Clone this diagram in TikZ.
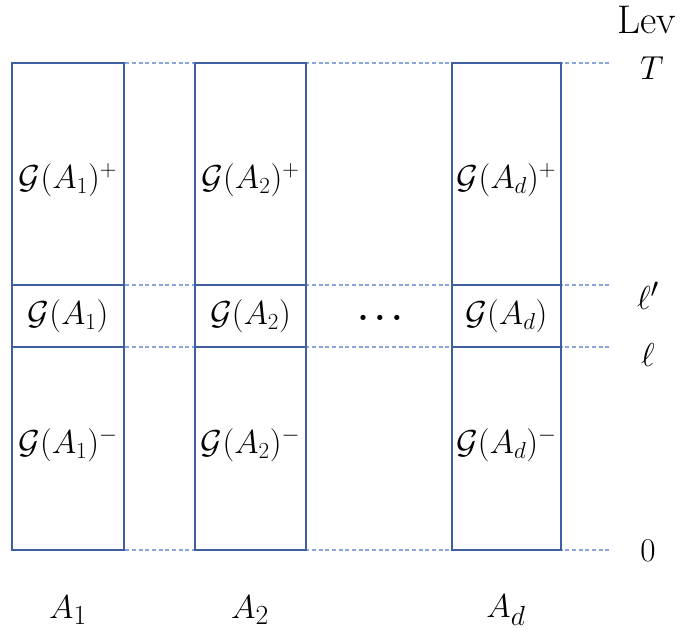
\documentclass[tikz,border=0pt]{standalone}
\usepackage{amsmath}
\begin{document}
\begin{tikzpicture}[x=0.75pt,y=-0.75pt,
  boxline/.style={draw=boxblue,line width=1.6pt},
  levline/.style={draw=dashblue,line width=0.9pt,dash pattern=on 3pt off 2pt},
  lab/.style={inner sep=0pt,font=\fontsize{26}{30}\selectfont},
  biglab/.style={inner sep=0pt,font=\fontsize{32}{36}\selectfont}]
\definecolor{boxblue}{HTML}{3F5FA0}
\definecolor{dashblue}{HTML}{8AA6DD}
\useasboundingbox (0,0) rectangle (685,640);
% level lines
\foreach \yy in {63,285,347,550} {
  \coordinate (l\yy a) at (12,\yy);
  \coordinate (l\yy b) at (610,\yy);
  \draw[levline] (l\yy a) -- (l\yy b);
}
% columns
\foreach \nm/\xl/\xr in {c1/12/124,c2/195/306,cd/452/561} {
  \coordinate (\nm tl) at (\xl,63);
  \coordinate (\nm br) at (\xr,550);
  \coordinate (\nm m1l) at (\xl,285);
  \coordinate (\nm m1r) at (\xr,285);
  \coordinate (\nm m2l) at (\xl,347);
  \coordinate (\nm m2r) at (\xr,347);
  \draw[boxline] (\nm tl) rectangle (\nm br);
  \draw[boxline] (\nm m1l) -- (\nm m1r);
  \draw[boxline] (\nm m2l) -- (\nm m2r);
}
% labels in boxes
\node[lab] (g1p) at (68,180) {$\mathcal{G}(A_1)^+$};
\node[lab] (g1) at (68,316) {$\mathcal{G}(A_1)$};
\node[lab] (g1m) at (68,445) {$\mathcal{G}(A_1)^-$};
\node[lab] (g2p) at (250.5,180) {$\mathcal{G}(A_2)^+$};
\node[lab] (g2) at (250.5,316) {$\mathcal{G}(A_2)$};
\node[lab] (g2m) at (250.5,445) {$\mathcal{G}(A_2)^-$};
\node[lab] (gdp) at (506.5,180) {$\mathcal{G}(A_d)^+$};
\node[lab] (gd) at (506.5,316) {$\mathcal{G}(A_d)$};
\node[lab] (gdm) at (506.5,445) {$\mathcal{G}(A_d)^-$};
\node[biglab] (dots) at (380,318) {$\boldsymbol{\ldots}$};
% bottom labels
\node[biglab] (a1) at (68,610) {$A_1$};
\node[biglab] (a2) at (250,610) {$A_2$};
\node[biglab] (ad) at (506,610) {$A_d$};
% level labels
\node[inner sep=0pt,font=\fontsize{30}{34}\selectfont,anchor=base west] (lev) at (617,33) {Lev};
\node[biglab] (lt) at (652,68) {$T$};
\node[biglab] (llp) at (648,296) {$\ell'$};
\node[biglab] (ll) at (648,355) {$\ell$};
\node[biglab] (l0) at (648,551) {$0$};
\end{tikzpicture}
\end{document}
